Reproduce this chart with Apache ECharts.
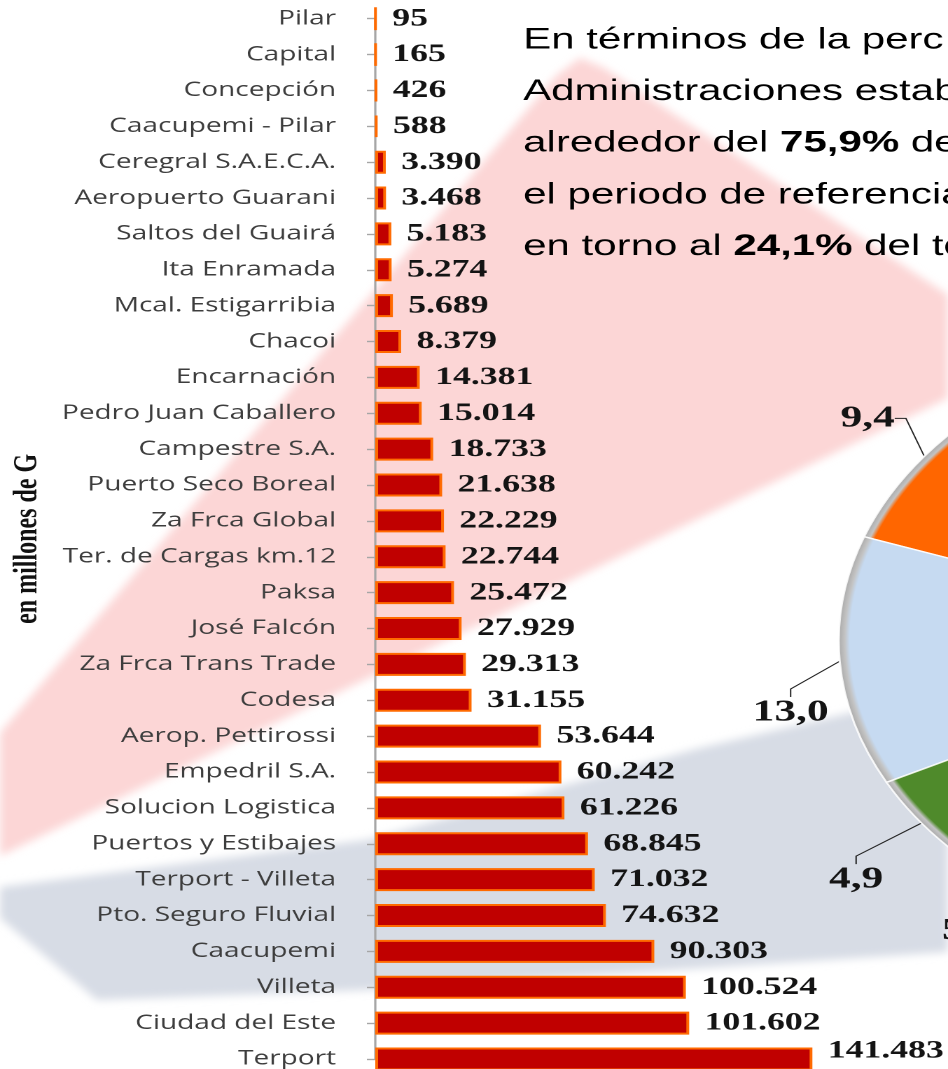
<!DOCTYPE html>
<html>
<head>
<meta charset="utf-8">
<script src="https://cdn.jsdelivr.net/npm/echarts@6/dist/echarts.min.js"></script>
<style>
  html, body { margin: 0; padding: 0; background: #ffffff; overflow: hidden; }
  #wrap { position: relative; width: 948px; height: 1069px; overflow: hidden; }
  #bg { position: absolute; left: 0; top: 0; }
  #chart { position: absolute; left: 0; top: 0; width: 677px; height: 1069px;
           transform: scaleX(1.4003); transform-origin: 0 0; }
</style>
</head>
<body>
<div id="wrap">
  <svg id="bg" width="948" height="1069" xmlns="http://www.w3.org/2000/svg">
    <defs>
      <filter id="soft" x="-5%" y="-5%" width="110%" height="110%">
        <feGaussianBlur stdDeviation="4"/>
      </filter>
    </defs>
    <polygon filter="url(#soft)" fill="#fcd6d6"
      points="0,733 556,76 580,58 604,68 948,295 948,398 0,856"/>
    <polygon filter="url(#soft)" fill="#d7dce5"
      points="0,887 367,840 700,748 948,690 948,952 367,990 97,1000 0,918"/>
  </svg>
  <div id="chart"></div>
</div>
<script>
// ---- data ----
const categories = ['Pilar', 'Capital', 'Concepción', 'Caacupemi - Pilar', 'Ceregral S.A.E.C.A.',
  'Aeropuerto Guarani', 'Saltos del Guairá', 'Ita Enramada', 'Mcal. Estigarribia', 'Chacoi',
  'Encarnación', 'Pedro Juan Caballero', 'Campestre S.A.', 'Puerto Seco Boreal', 'Za Frca Global',
  'Ter. de Cargas km.12', 'Paksa', 'José Falcón', 'Za Frca Trans Trade', 'Codesa',
  'Aerop. Pettirossi', 'Empedril S.A.', 'Solucion Logistica', 'Puertos y Estibajes', 'Terport - Villeta',
  'Pto. Seguro Fluvial', 'Caacupemi', 'Villeta', 'Ciudad del Este', 'Terport'];
const values = [95, 165, 426, 588, 3390, 3468, 5183, 5274, 5689, 8379,
  14381, 15014, 18733, 21638, 22229, 22744, 25472, 27929, 29313, 31155,
  53644, 60242, 61226, 68845, 71032, 74632, 90303, 100524, 101602, 141483];
const axisTitle = 'en millones de G';

const pieShares = [9.4, 13.0, 4.9, 5.6, 67.1];
const pieColors = ['#ff6600', '#c6daf1', '#4f8a2b', '#8064a2', '#c00000'];

const textLines = [
  'En términos de la perc',
  'Administraciones estab',
  'alrededor del {b|75,9%} de',
  'el periodo de referencia',
  'en torno al {b|24,1%} del to'
];

// ---- helpers ----
const fmtThousands = v => String(v).replace(/\B(?=(\d{3})+(?!\d))/g, '.');
const fmtDecimal = v => v.toFixed(1).replace('.', ',');

const chart = echarts.init(document.getElementById('chart'), null, { devicePixelRatio: 2 });

const pieCenter = [909, 641];
const pieRadius = 310;
// label nudges (px) to mimic the spreadsheet's leader-line placement
const pieLabelNudge = [[20, -17], [40, 49], [14, 36], [14, 8], [0, 0]];

const barData = values.map((v, i) => i === values.length - 1
  ? { value: v, label: { offset: [0, -8] } }
  : v);

const pieData = pieShares.map((v, i) => ({
  value: v,
  name: 'S' + (i + 1),
  itemStyle: {
    color: {
      type: 'radial', global: true, x: pieCenter[0], y: pieCenter[1], r: pieRadius,
      colorStops: [
        { offset: 0, color: pieColors[i] },
        { offset: 0.975, color: pieColors[i] },
        { offset: 0.986, color: '#c4c4c4' },
        { offset: 1, color: '#ababab' }
      ]
    }
  }
}));

const option = {
  animation: false,
  grid: { left: 265.9, top: 18.7, height: 1044, right: 56, containLabel: false },
  xAxis: {
    type: 'value', min: 0, max: 160000, show: false
  },
  yAxis: {
    type: 'category',
    data: categories,
    inverse: true,
    boundaryGap: false,
    axisLine: { show: true, lineStyle: { color: '#a6a6a6', width: 1.6 } },
    axisTick: { show: true, length: 6, lineStyle: { color: '#a6a6a6', width: 1.4 } },
    axisLabel: {
      interval: 0, margin: 28, fontFamily: 'Open Sans', fontSize: 20, color: '#3d3d3d'
    },
    splitLine: { show: false },
    name: axisTitle,
    nameLocation: 'middle',
    nameRotate: 90,
    nameGap: 236,
    nameTextStyle: { fontFamily: 'Liberation Serif', fontWeight: 'bold', fontSize: 24, color: '#111' }
  },
  series: [
    {
      type: 'bar',
      data: barData,
      barWidth: 23,
      clip: false,
      itemStyle: { color: '#c00000', borderColor: '#ff6a00', borderWidth: 2 },
      label: {
        show: true, position: 'right', distance: 11,
        formatter: p => fmtThousands(p.value),
        fontFamily: 'Liberation Serif', fontWeight: 'bold', fontSize: 25.5, color: '#141414'
      },
      z: 3
    },
    {
      type: 'pie',
      center: pieCenter,
      radius: pieRadius,
      clockwise: false,
      startAngle: 126.5,
      data: pieData,
      itemStyle: { borderColor: 'rgba(255,255,255,0.85)', borderWidth: 1.5 },
      label: {
        show: true, position: 'outside',
        formatter: p => fmtDecimal(p.value),
        fontFamily: 'Liberation Serif', fontWeight: 'bold', fontSize: 31, color: '#141414'
      },
      labelLine: { show: true, length: 35, length2: 8, lineStyle: { color: '#222', width: 1 } },
      labelLayout: p => {
        const n = pieLabelNudge[p.dataIndex] || [0, 0];
        const r = p.labelRect;
        return {
          x: r.x + r.width / 2 + n[0],
          y: r.y + r.height / 2 + n[1],
          align: 'center',
          verticalAlign: 'middle'
        };
      },
      emphasis: { disabled: true },
      z: 2
    }
  ],
  graphic: textLines.map((t, i) => ({
    type: 'text',
    left: 373.6,
    top: 25 + i * 51.7,
    z: 1,
    style: {
      text: t,
      fontFamily: 'Liberation Sans',
      fontSize: 30,
      fill: '#000',
      rich: { b: { fontFamily: 'Liberation Sans', fontSize: 30, fontWeight: 'bold', fill: '#000' } }
    }
  }))
};

chart.setOption(option);
</script>
</body>
</html>
